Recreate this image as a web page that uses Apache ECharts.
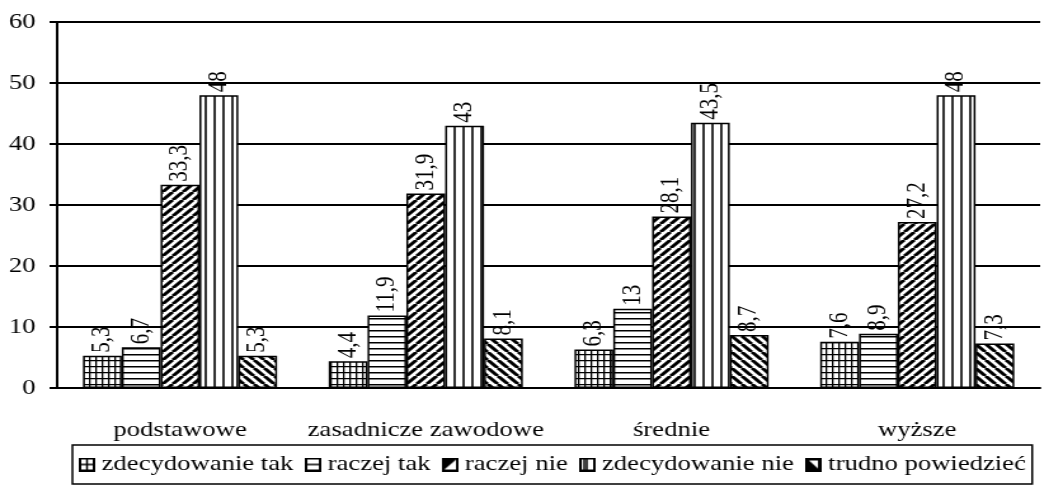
<!DOCTYPE html>
<html>
<head>
<meta charset="utf-8">
<script src="https://cdn.jsdelivr.net/npm/echarts@6/dist/echarts.min.js"></script>
<style>
  html, body { margin: 0; padding: 0; background: #fff; overflow: hidden; }
  /* the reference picture is stretched sideways, so the chart is drawn narrower and widened */
  #chart { width: 821px; height: 493px; transform: scaleX(1.27); transform-origin: 0 0; }
</style>
</head>
<body>
<div id="chart"></div>
<script>
// categories and values
const categories = ['podstawowe', 'zasadnicze zawodowe', 'średnie', 'wyższe'];
const seriesNames = ['zdecydowanie tak', 'raczej tak', 'raczej nie', 'zdecydowanie nie', 'trudno powiedzieć'];
const zdecydowanieTak = [5.3, 4.4, 6.3, 7.6];
const raczejTak = [6.7, 11.9, 13, 8.9];
const raczejNie = [33.3, 31.9, 28.1, 27.2];
const zdecydowanieNie = [48, 43, 43.5, 48];
const trudnoPowiedziec = [5.3, 8.1, 8.7, 7.3];
const yTicks = [0, 10, 20, 30, 40, 50, 60];

const FONT = '"Liberation Serif", "Times New Roman", serif';
const FS = 21;

// black & white fill patterns
function makePattern(kind) {
    const c = document.createElement('canvas');
    const s = kind === 'grid' || kind === 'hlines' ? 5 : (kind === 'vlines' ? 7 : 8);
    c.width = s; c.height = kind === 'grid' || kind === 'hlines' ? 6 : s;
    const h = c.height;
    const ctx = c.getContext('2d');
    ctx.fillStyle = '#fff';
    ctx.fillRect(0, 0, s, h);
    ctx.strokeStyle = '#000';
    if (kind === 'grid') {
        ctx.lineWidth = 1.3;
        ctx.beginPath();
        ctx.moveTo(0, 0.65); ctx.lineTo(s, 0.65);
        ctx.moveTo(0.65, 0); ctx.lineTo(0.65, h);
        ctx.stroke();
    } else if (kind === 'hlines') {
        ctx.lineWidth = 1.5;
        ctx.beginPath();
        ctx.moveTo(0, 0.75); ctx.lineTo(s, 0.75);
        ctx.stroke();
    } else if (kind === 'vlines') {
        ctx.lineWidth = 1.6;
        ctx.beginPath();
        ctx.moveTo(1, 0); ctx.lineTo(1, h);
        ctx.stroke();
    } else {
        ctx.lineWidth = 3;
        ctx.beginPath();
        for (let x = -s; x <= s; x += s) {
            if (kind === 'up') {
                ctx.moveTo(x, s); ctx.lineTo(x + s, 0);
            } else {
                ctx.moveTo(x, 0); ctx.lineTo(x + s, s);
            }
        }
        ctx.stroke();
    }
    return { image: c, repeat: 'repeat' };
}

// small legend icons, drawn like the reference ones
function makeIcon(kind) {
    const w = 13, h = 14;
    const c = document.createElement('canvas');
    c.width = w; c.height = h;
    const ctx = c.getContext('2d');
    ctx.fillStyle = '#fff';
    ctx.fillRect(0, 0, w, h);
    ctx.fillStyle = '#000';
    ctx.strokeStyle = '#000';
    ctx.lineWidth = 1.5;
    if (kind === 'up') {
        ctx.beginPath();
        ctx.moveTo(0, 0); ctx.lineTo(w, 0); ctx.lineTo(0, h); ctx.closePath();
        ctx.fill();
    } else if (kind === 'down') {
        ctx.fillRect(0, 0, w, h);
        ctx.fillStyle = '#fff';
        ctx.beginPath();
        ctx.moveTo(3, 3); ctx.lineTo(w - 3, 3); ctx.lineTo(w - 3, h - 3); ctx.closePath();
        ctx.fill();
    }
    ctx.beginPath();
    if (kind === 'grid') {
        ctx.moveTo(w / 2, 0); ctx.lineTo(w / 2, h);
        ctx.moveTo(0, h / 2); ctx.lineTo(w, h / 2);
    } else if (kind === 'hlines') {
        ctx.moveTo(0, h / 2); ctx.lineTo(w, h / 2);
    } else if (kind === 'vlines') {
        ctx.moveTo(4, 0); ctx.lineTo(4, h);
        ctx.moveTo(6, 0); ctx.lineTo(6, h);
    }
    ctx.stroke();
    ctx.lineWidth = 2;
    ctx.strokeRect(1, 1, w - 2, h - 2);
    return 'image://' + c.toDataURL();
}

const kinds = ['grid', 'hlines', 'up', 'vlines', 'down'];
const patterns = kinds.map(makePattern);
const values = [zdecydowanieTak, raczejTak, raczejNie, zdecydowanieNie, trudnoPowiedziec];

const chart = echarts.init(document.getElementById('chart'));

chart.setOption({
    animation: false,
    textStyle: { fontFamily: FONT },
    grid: { left: 45, right: 2, top: 22, bottom: 105 },
    legend: {
        bottom: 9,
        left: 57,
        itemWidth: 13,
        itemHeight: 14,
        itemGap: 9,
        padding: [9, 5],
        borderColor: '#000',
        borderWidth: 1.5,
        textStyle: { fontFamily: FONT, fontSize: FS, color: '#000', padding: [0, 0, 0, 0] },
        data: seriesNames.map((n, i) => ({ name: n, icon: makeIcon(kinds[i]) }))
    },
    xAxis: {
        type: 'category',
        data: categories,
        axisLine: { lineStyle: { color: '#000', width: 2 } },
        axisTick: { show: false },
        axisLabel: { fontFamily: FONT, fontSize: FS, color: '#000', margin: 32, interval: 0 }
    },
    yAxis: {
        type: 'value',
        min: 0,
        max: 60,
        interval: 10,
        axisLine: { show: true, lineStyle: { color: '#000', width: 2 } },
        axisTick: { show: true, length: 6, lineStyle: { color: '#000', width: 2 } },
        splitLine: { lineStyle: { color: '#000', width: 2 } },
        axisLabel: {
            fontFamily: FONT, fontSize: FS, color: '#000', margin: 17,
            formatter: v => (yTicks.includes(v) ? String(v) : '')
        }
    },
    series: seriesNames.map((name, i) => ({
        name: name,
        type: 'bar',
        data: values[i],
        barGap: 0,
        barCategoryGap: '21%',
        itemStyle: { color: patterns[i], borderColor: '#000', borderWidth: 1.5 },
        label: {
            show: true,
            position: 'top',
            rotate: 90,
            align: 'left',
            verticalAlign: 'middle',
            distance: 3,
            fontFamily: FONT,
            fontSize: FS,
            color: '#000',
            formatter: p => String(p.value).replace('.', ',')
        }
    }))
});
</script>
</body>
</html>
